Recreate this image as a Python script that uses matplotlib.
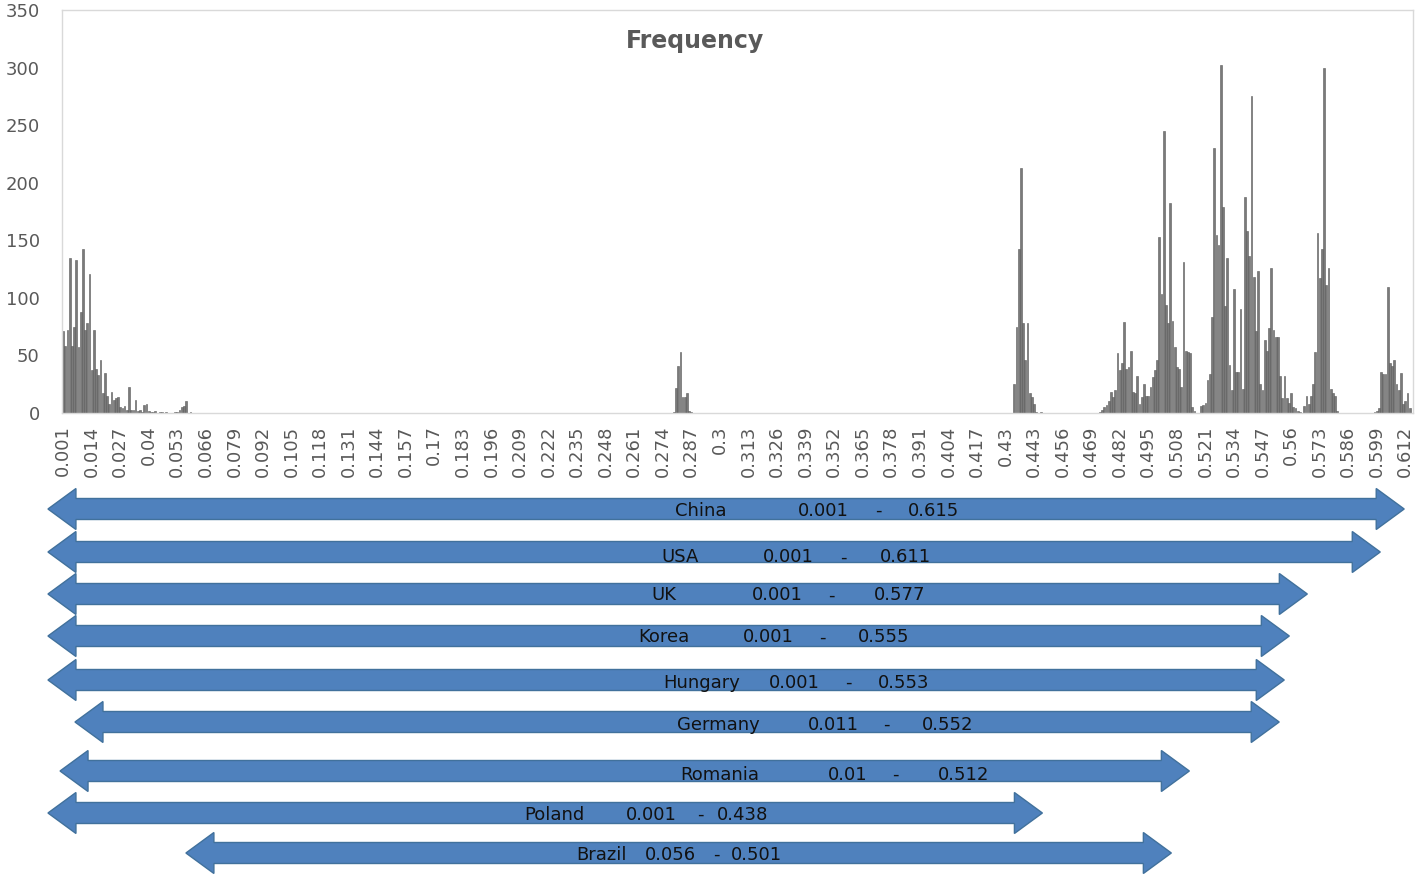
"""Frequency histogram of values 0.001-0.615 with per-country range arrows."""

import numpy as np
import matplotlib

matplotlib.use("Agg")
import matplotlib.pyplot as plt
from matplotlib.patches import Polygon

W, H = 1418, 876

# Histogram: one bin per 0.001 from 0.001 to 0.615
bin_step = 0.001
n_bins = 615

# Non-zero frequencies, grouped by the first bin number of each group
low_start = 1
low_freq = [71, 58, 72, 135, 58, 75, 133, 57, 88, 142, 72, 78, 121, 37, 72,
            38, 33, 46, 17, 35, 15, 8, 18, 11, 13, 14, 5, 4, 6, 3, 23, 3, 3,
            11, 2, 3, 1, 7, 8, 2, 1, 1, 2, 0, 1, 1, 0, 1, 0, 0, 0, 1, 1, 3,
            5, 6, 10, 0, 1]
mid_start = 279
mid_freq = [1, 22, 41, 53, 14, 14, 17, 2, 1]
c44_start = 434
c44_freq = [25, 75, 142, 213, 78, 46, 78, 17, 14, 8, 1, 0, 1]
c49_start = 473
c49_freq = [1, 3, 5, 7, 10, 18, 14, 20, 52, 37, 43, 79, 38, 40, 54, 18, 17,
            32, 8, 14, 25, 15, 15, 23, 31, 37, 46, 153, 103, 245, 94, 78, 182,
            80, 57, 40, 38, 23, 131, 54, 53, 52, 5, 2]
c53_start = 519
c53_freq = [6, 7, 9, 29, 34, 83, 230, 155, 146, 302, 179, 93, 135, 42, 20,
            108, 36, 36, 90, 21, 188, 158, 136, 275, 118, 71, 123, 25, 20, 63,
            54, 74, 126, 72, 66, 66, 32, 13, 32, 13, 9, 17, 5, 4, 2, 1]
c57_start = 566
c57_freq = [6, 15, 8, 15, 25, 53, 156, 117, 142, 300, 111, 126, 21, 17, 15, 2]
c60_start = 598
c60_freq = [1, 2, 4, 36, 34, 34, 109, 43, 41, 46, 25, 20, 35, 8, 10, 17, 4]

# Country ranges
countries = ["China", "USA", "UK", "Korea", "Hungary", "Germany", "Romania",
             "Poland", "Brazil"]
range_low = ["0.001", "0.001", "0.001", "0.001", "0.001", "0.011", "0.01",
             "0.001", "0.056"]
range_high = ["0.615", "0.611", "0.577", "0.555", "0.553", "0.552", "0.512",
              "0.438", "0.501"]
# arrow ends as drawn in the picture (x units)
arrow_from = [-0.0059, -0.0059, -0.0059, -0.0059, -0.0059, 0.0064, -0.0004,
              -0.0059, 0.0569]
arrow_to = [0.6115, 0.6006, 0.5674, 0.5592, 0.5569, 0.5546, 0.5137, 0.4468,
            0.5055]


def build_frequencies():
    freq = np.zeros(n_bins)
    groups = [
        (low_start, low_freq),
        (mid_start, mid_freq),
        (c44_start, c44_freq),
        (c49_start, c49_freq),
        (c53_start, c53_freq),
        (c57_start, c57_freq),
        (c60_start, c60_freq),
    ]
    for start, vals in groups:
        freq[start - 1:start - 1 + len(vals)] = vals
    return freq


def double_arrow(ax, x0, x1, yc, head_len, head_half, body_half):
    pts = [
        (x0, yc),
        (x0 + head_len, yc - head_half),
        (x0 + head_len, yc - body_half),
        (x1 - head_len, yc - body_half),
        (x1 - head_len, yc - head_half),
        (x1, yc),
        (x1 - head_len, yc + head_half),
        (x1 - head_len, yc + body_half),
        (x0 + head_len, yc + body_half),
        (x0 + head_len, yc + head_half),
    ]
    ax.add_patch(Polygon(pts, closed=True, facecolor="#4f81bd",
                         edgecolor="#41719c", linewidth=1.0, clip_on=False))


def main():
    freq = build_frequencies()
    x = np.arange(1, n_bins + 1) * bin_step
    xmin, xmax = 0.0005, n_bins * bin_step + 0.0005

    fig = plt.figure(figsize=(W / 100, H / 100), dpi=100)

    # Histogram
    ax = fig.add_axes([62 / W, 1 - 413 / H, (1413 - 62) / W, (413 - 10) / H])
    ax.bar(x, freq, width=bin_step * 0.8, color="#7a7a7a",
           edgecolor="#5a5a5a", linewidth=0.4)
    ax.set_xlim(xmin, xmax)
    ax.set_ylim(0, 350)
    ax.set_yticks(range(0, 351, 50))
    tick_bins = np.arange(1, n_bins, 13)
    ax.set_xticks(tick_bins * bin_step)
    ax.set_xticklabels([f"{round(b * bin_step, 3):g}" for b in tick_bins],
                       rotation=90)
    ax.tick_params(length=0, colors="#595959", labelsize=13)
    ax.tick_params(axis="y", pad=16)
    ax.tick_params(axis="x", pad=9)
    for spine in ax.spines.values():
        spine.set_color("#d9d9d9")
        spine.set_linewidth(1.0)

    fig.text(694.5 / W, 1 - 48 / H, "Frequency", ha="center", va="baseline",
             fontsize=17, fontweight="bold", color="#595959")

    # Range arrows below the histogram (y in picture rows)
    ax2 = fig.add_axes([62 / W, 0, (1413 - 62) / W, 480 / H])
    ax2.set_xlim(xmin, xmax)
    ax2.set_ylim(876, 396)
    ax2.axis("off")

    row_y = [509, 552, 594, 636, 680, 722, 771, 813, 853]
    text_y = [509, 556, 594, 636, 681, 723, 773, 813, 853]
    label_x = [
        (675, 798, 878, 908),
        (661, 763, 843, 880),
        (651, 752, 831, 874),
        (638, 743, 822, 858),
        (663, 769, 848, 878),
        (677, 808, 886, 922),
        (680, 828, 895, 938),
        (524, 626, 700, 717),
        (576, 645, 716, 731),
    ]
    px_per_unit = (1413 - 62) / (xmax - xmin)
    for i, name in enumerate(countries):
        double_arrow(ax2, arrow_from[i], arrow_to[i], row_y[i],
                     28 / px_per_unit, 20.5, 10.5)
        nx, lx, dx, hx = label_x[i]
        base = 1 - (text_y[i] + 6.5) / H
        style = dict(fontsize=13, color="#111111", va="baseline")
        fig.text(nx / W, base, name, ha="left", **style)
        fig.text(lx / W, base, range_low[i], ha="left", **style)
        fig.text(dx / W, base, "-", ha="center", **style)
        fig.text(hx / W, base, range_high[i], ha="left", **style)

    fig.savefig("out.png", dpi=100)
    plt.close(fig)


if __name__ == "__main__":
    main()
